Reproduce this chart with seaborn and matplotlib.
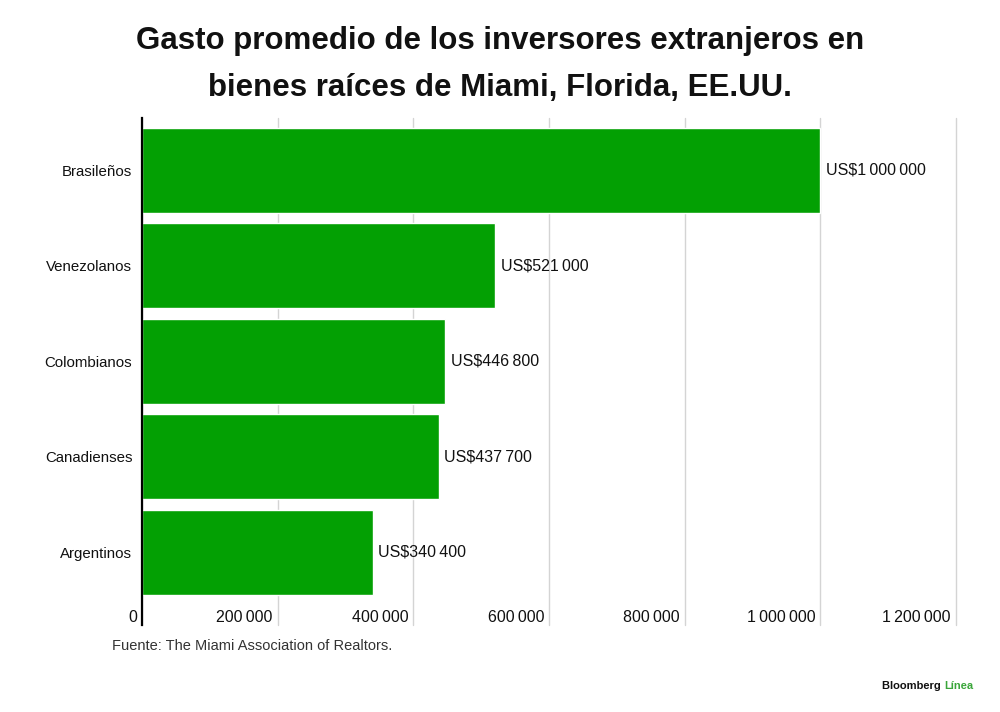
import matplotlib
matplotlib.use("Agg")
import matplotlib.pyplot as plt
import seaborn as sns

# data
categories = ["Brasileños", "Venezolanos", "Colombianos", "Canadienses", "Argentinos"]
values = [1000000, 521000, 446800, 437700, 340400]
xticks = [0, 200000, 400000, 600000, 800000, 1000000, 1200000]

GREEN = "#03a003"
THIN = "\u2009"


def fmt(v):
    return f"{v:,}".replace(",", THIN)


sns.set_style("white")
plt.rcParams["font.family"] = ["Liberation Sans", "DejaVu Sans"]

fig = plt.figure(figsize=(10, 7.12), dpi=100)
ax = fig.add_axes([0.142, 0.1222, 0.814, 0.7121])

sns.barplot(x=values, y=categories, orient="h", color=GREEN, saturation=1,
            width=0.89, ax=ax)

ax.set_xlim(0, 1200000)
ax.set_ylim(4.76, -0.55)
ax.set_xlabel("")
ax.set_ylabel("")

# gridlines
ax.set_xticks(xticks)
ax.set_xticklabels([fmt(t) for t in xticks])
ax.grid(axis="x", color="#d4d4d4", linewidth=1)
ax.set_axisbelow(True)
for gl in ax.get_xgridlines():
    gl.set_clip_on(False)

for side in ["top", "right", "bottom"]:
    ax.spines[side].set_visible(False)
ax.spines["left"].set_color("black")
ax.spines["left"].set_linewidth(1.6)

ax.tick_params(axis="x", length=0, pad=-10.5, labelsize=11.5, colors="#111111")
ax.tick_params(axis="y", length=0, pad=7, labelsize=10.8, colors="#111111")
for lab in ax.get_xticklabels():
    lab.set_ha("right")
    lab.set_transform(lab.get_transform() +
                      matplotlib.transforms.ScaledTranslation(-5 / 100, 0, fig.dpi_scale_trans))

# value labels
ax.bar_label(ax.containers[0], labels=["US$" + fmt(v) for v in values],
             padding=4, fontsize=11.5, color="#111111")

# title
fig.text(0.5, 0.943, "Gasto promedio de los inversores extranjeros en",
         ha="center", va="center", fontsize=22.5, fontweight="bold", color="#111111")
fig.text(0.5, 0.876, "bienes raíces de Miami, Florida, EE.UU.",
         ha="center", va="center", fontsize=22.5, fontweight="bold", color="#111111")

# source + brand
fig.text(0.112, 0.092, "Fuente: The Miami Association of Realtors.",
         ha="left", va="center", fontsize=10.5, color="#333333")
t = fig.text(0.882, 0.036, "Bloomberg ", ha="left", va="center",
             fontsize=8, fontweight="bold", color="#111111")
fig.canvas.draw()
bb = t.get_window_extent()
fig.text(bb.x1 / fig.bbox.width, 0.036, "Línea", ha="left", va="center",
         fontsize=8, fontweight="bold", color="#3aa63a")

fig.savefig("out.png", dpi=100)
